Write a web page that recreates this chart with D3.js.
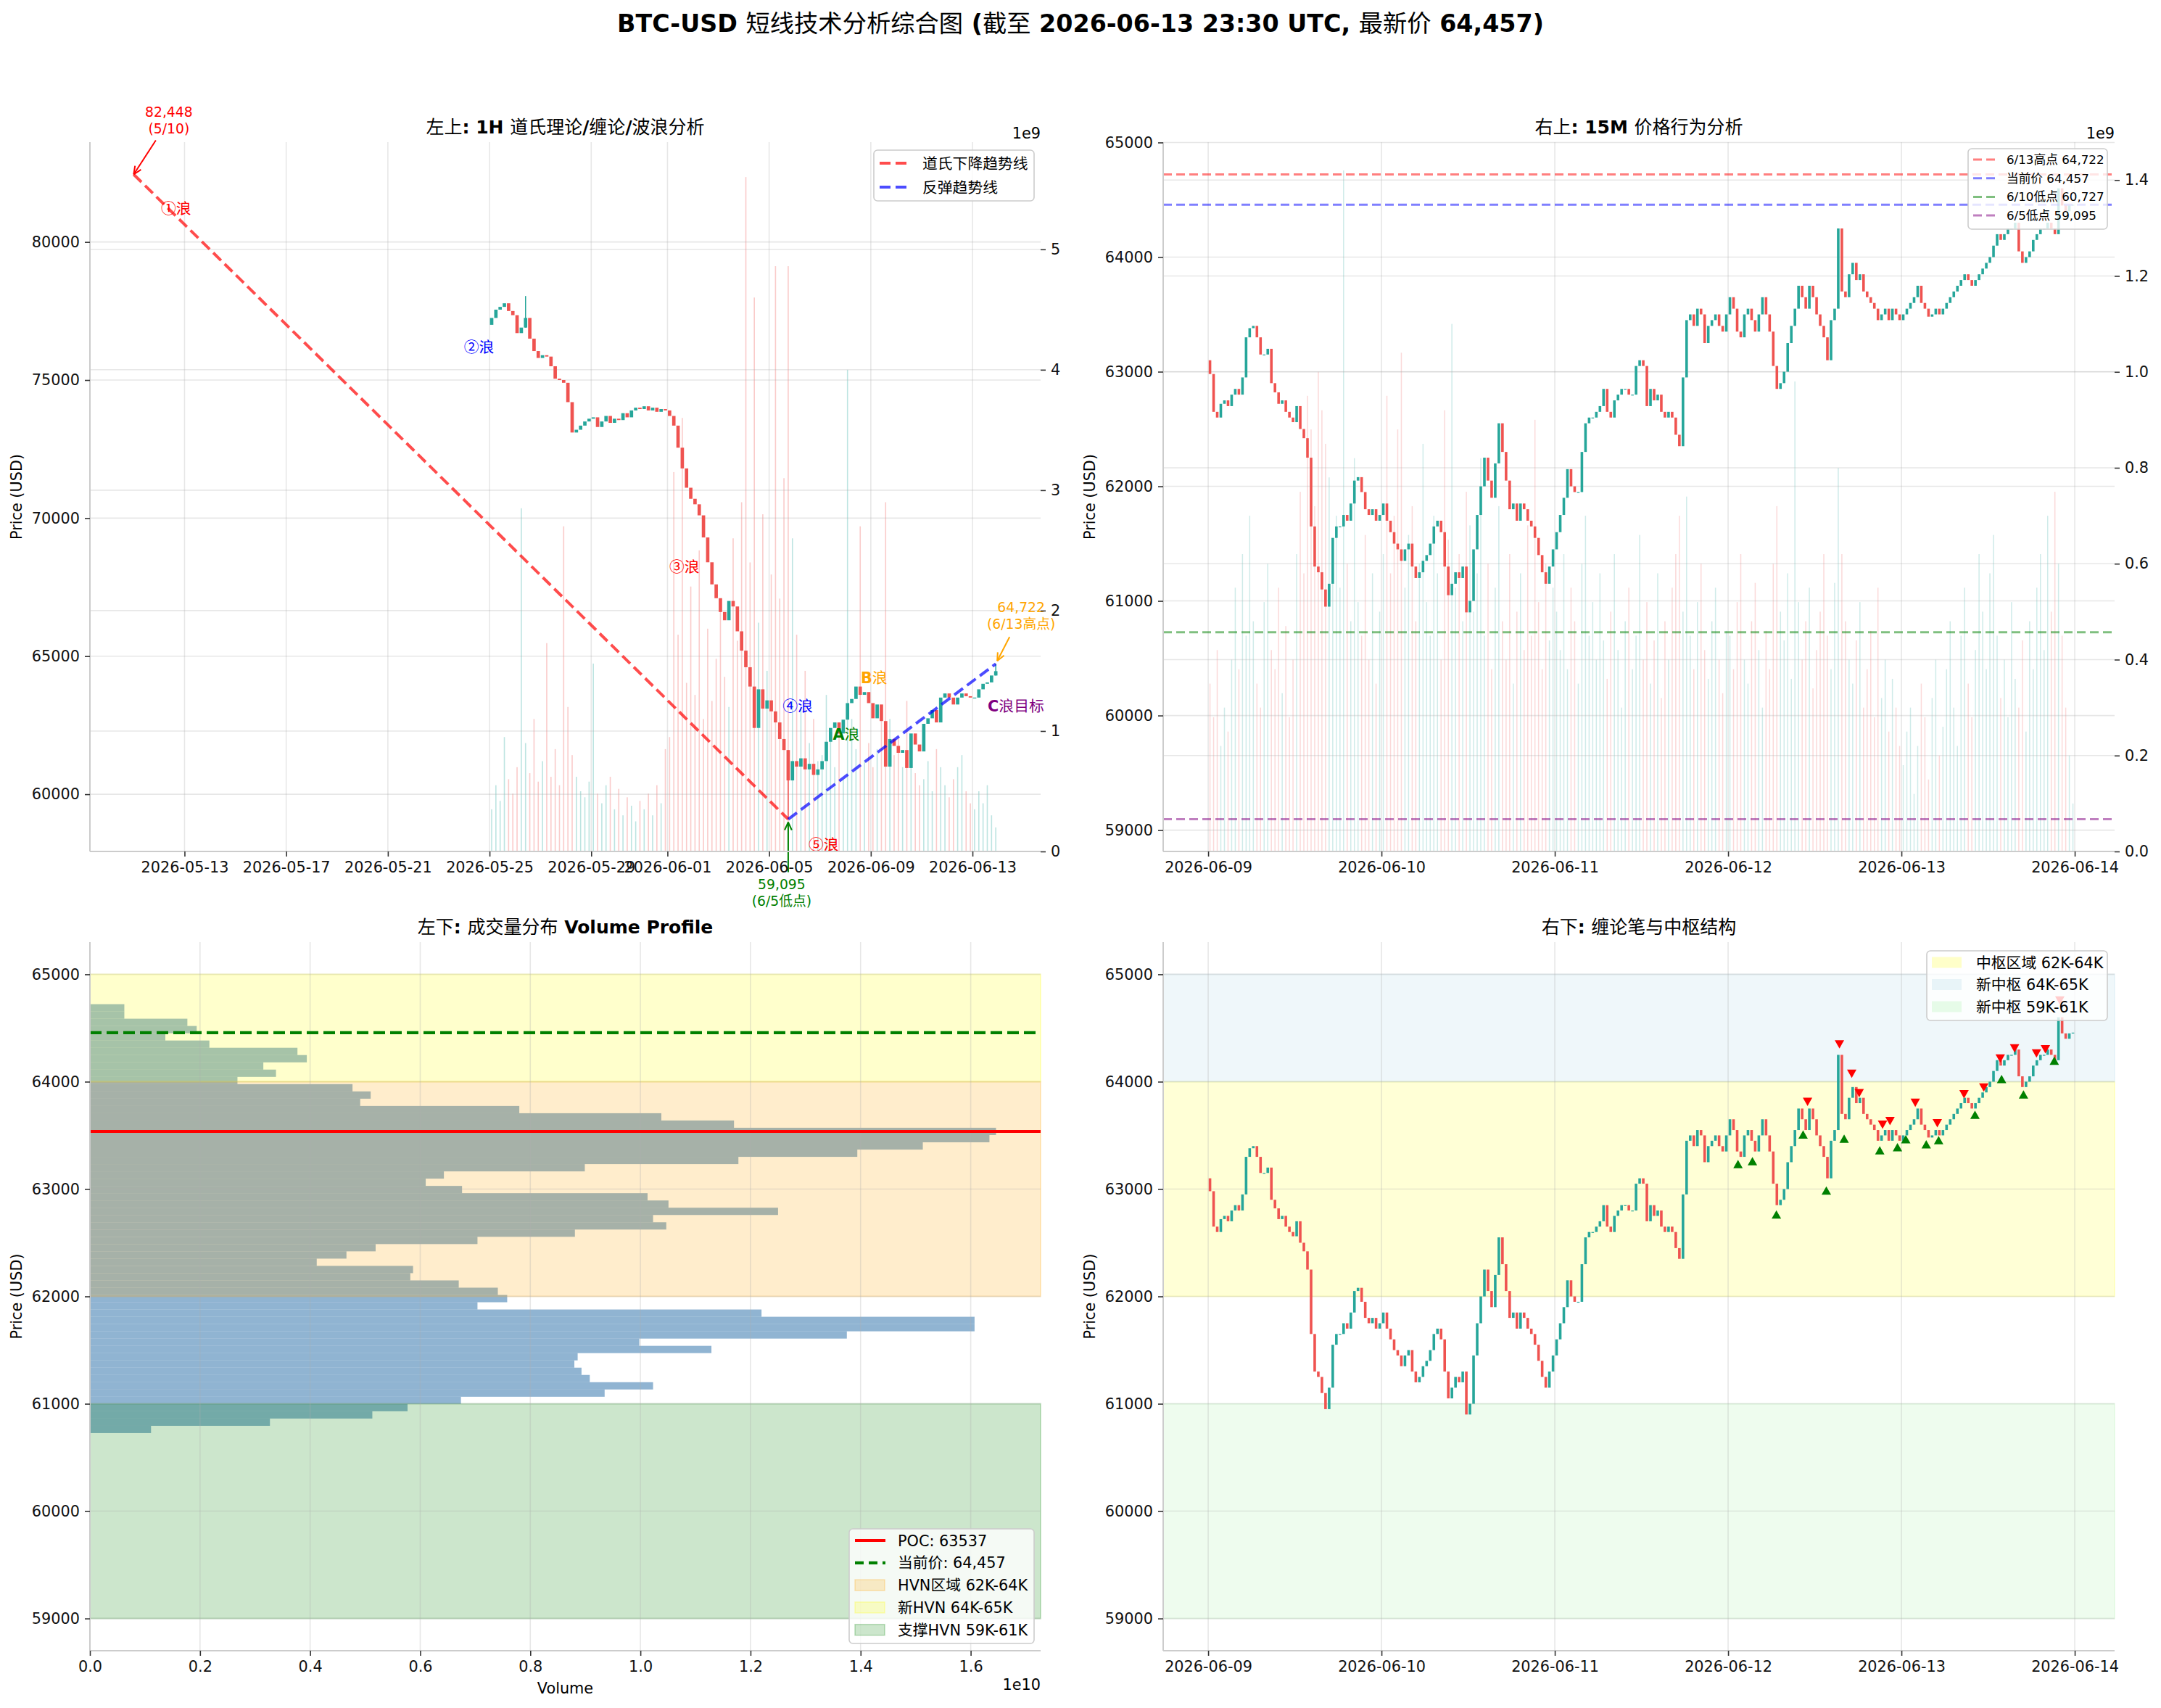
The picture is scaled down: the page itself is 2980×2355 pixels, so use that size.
<!DOCTYPE html>
<html><head><meta charset="utf-8">
<script src="https://cdn.jsdelivr.net/npm/d3@7/dist/d3.min.js"></script>
<style>
html,body{margin:0;padding:0;background:#fff;}
svg{display:block;}
text{white-space:pre;}
</style></head>
<body><svg id="chart" width="2980" height="2355" xmlns="http://www.w3.org/2000/svg"></svg>
<script>
// ================= DATA =================
const mainTitle = "BTC-USD 短线技术分析综合图 (截至 2026-06-13 23:30 UTC, 最新价 64,457)";
const panelTitles = ["左上: 1H 道氏理论/缠论/波浪分析", "右上: 15M 价格行为分析", "左下: 成交量分布 Volume Profile", "右下: 缠论笔与中枢结构"];

// Top-left: candles (4H steps) starting 2026-05-25
const tlStart = "2026-05-25T00:00:00Z";
const tlStepHours = 4;
const tlFirstOpen = 77000;
const tlClose = [
  77250, 77550, 77650, 77780, 77500, 77350,
  76700, 76900, 77250, 76500, 76050, 75800,
  75900, 75850, 75500, 75050, 75000, 74900,
  74200, 73100, 73200, 73350, 73500, 73600,
  73650, 73300, 73500, 73700, 73450, 73600,
  73550, 73800, 73650, 73900, 74000, 73950,
  74050, 73900, 74000, 73850, 73950, 73900,
  73700, 73350, 72550, 71800, 71100, 70700,
  70500, 70100, 69300, 68400, 67600, 67100,
  66600, 66300, 67000, 66800, 65900, 65200,
  64600, 63900, 62400, 63800, 63100, 63400,
  63000, 62600, 62000, 61600, 60500, 61200,
  61000, 61300, 60900, 61100, 60700, 60900,
  61200, 61900, 62400, 62600, 62200, 62700,
  63300, 63450, 63900, 63600, 63700, 63300,
  62750, 63250, 62650, 61000, 62000, 61750,
  61500, 61600, 60950, 62200, 61800, 61550,
  62550, 62750, 63050, 62600, 63500, 63650,
  63500, 63250, 63500, 63650, 63550, 63500,
  63500, 63800, 64000, 64050, 64300, 64457
];
// volume, units of 1e9
const tlVolume = [
  0.35, 0.55, 0.42, 0.95, 0.60, 0.48,
  0.70, 2.85, 0.90, 0.65, 1.10, 0.58,
  0.75, 1.73, 0.62, 0.85, 0.55, 2.70,
  1.20, 0.80, 0.62, 0.50, 0.45, 0.58,
  1.56, 0.48, 0.40, 0.55, 0.62, 0.35,
  0.52, 0.30, 0.45, 0.38, 0.25, 0.42,
  0.35, 0.48, 0.30, 0.55, 0.40, 0.85,
  0.95, 3.15, 1.80, 3.60, 1.40, 2.20,
  1.30, 2.50, 1.10, 1.85, 1.25, 1.60,
  2.10, 1.45, 1.20, 2.60, 1.75, 2.90,
  5.60, 2.40, 4.60, 1.90, 2.80, 1.50,
  2.30, 4.86, 2.10, 3.10, 4.86, 2.60,
  1.80, 1.20, 1.50, 0.90, 1.10, 0.75,
  0.80, 1.30, 0.95, 0.70, 1.05, 0.60,
  4.00, 1.10, 0.85, 2.70, 0.75, 0.90,
  0.70, 0.85, 1.20, 2.90, 1.10, 0.80,
  0.95, 0.70, 1.25, 0.90, 0.65, 0.55,
  0.60, 0.75, 0.50, 0.85, 0.70, 0.55,
  0.45, 0.60, 0.70, 0.80, 0.50, 0.40,
  0.35, 0.50, 0.40, 0.55, 0.30, 0.20
];
const tlExtremes = [
  {t: "2026-05-26T10:00:00Z", high: 78043},
  {t: "2026-06-05T18:00:00Z", low: 59095},
  {t: "2026-06-13T22:00:00Z", high: 64722}
];
const tlDateTicks = ["2026-05-13", "2026-05-17", "2026-05-21", "2026-05-25", "2026-05-29", "2026-06-01", "2026-06-05", "2026-06-09", "2026-06-13"];
const tlPriceTicks = [60000, 65000, 70000, 75000, 80000];
const tlVolTicks = [0, 1, 2, 3, 4, 5];

const dowLine = [["2026-05-11T00:00:00Z", 82448], ["2026-06-05T18:00:00Z", 59095]];
const reboundLine = [["2026-06-05T18:00:00Z", 59095], ["2026-06-13T22:00:00Z", 64722]];
const waveLabels = [
  {text: "①浪", t: "2026-05-12T16:00:00Z", p: 81200, color: "red"},
  {text: "②浪", t: "2026-05-24T14:00:00Z", p: 76200, color: "blue"},
  {text: "③浪", t: "2026-06-01T16:00:00Z", p: 68230, color: "red"},
  {text: "④浪", t: "2026-06-06T03:00:00Z", p: 63200, color: "blue"},
  {text: "⑤浪", t: "2026-06-07T03:30:00Z", p: 58175, color: "red"},
  {text: "A浪", t: "2026-06-08T00:45:00Z", p: 62175, color: "green"},
  {text: "B浪", t: "2026-06-09T03:00:00Z", p: 64225, color: "orange"},
  {text: "C浪目标", t: "2026-06-14T17:00:00Z", p: 63200, color: "purple"}
];
const keyPoints = [
  {t: "2026-05-11T00:00:00Z", p: 82448, lines: ["82,448", "(5/10)"], color: "red"},
  {t: "2026-06-05T18:00:00Z", p: 59095, lines: ["59,095", "(6/5低点)"], color: "green"},
  {t: "2026-06-13T22:00:00Z", p: 64722, lines: ["64,722", "(6/13高点)"], color: "orange"}
];

// 15M panels: candles in 30-minute steps starting 2026-06-09
const mStart = "2026-06-09T00:00:00Z";
const mStepMinutes = 30;
const mFirstOpen = 63100;
const mClose = [
  62980, 62650, 62600, 62720, 62750, 62700, 62800, 62850, 62800, 62950, 63300, 63380,
  63400, 63300, 63150, 63150, 63200, 62900, 62820, 62720, 62750, 62650, 62600, 62560,
  62700, 62500, 62420, 62250, 61650, 61300, 61250, 61100, 60950, 61150, 61550, 61650,
  61650, 61750, 61700, 61850, 62050, 62080, 61950, 61800, 61750, 61800, 61700, 61750,
  61850, 61700, 61600, 61500, 61450, 61350, 61450, 61500, 61300, 61200, 61250, 61350,
  61400, 61500, 61650, 61700, 61600, 61300, 61050, 61150, 61250, 61200, 61300, 60900,
  61000, 61450, 61750, 62000, 62250, 62050, 61900, 62200, 62550, 62300, 62050, 61800,
  61850, 61700, 61850, 61800, 61700, 61650, 61550, 61400, 61250, 61150, 61300, 61450,
  61600, 61750, 61900, 62150, 62000, 61950, 61950, 62300, 62550, 62600, 62600, 62650,
  62700, 62850, 62650, 62600, 62750, 62800, 62850, 62850, 62800, 62800, 63050, 63100,
  63050, 62700, 62850, 62750, 62800, 62650, 62600, 62650, 62600, 62450, 62350, 62950,
  63450, 63500, 63400, 63550, 63500, 63250, 63400, 63450, 63500, 63400, 63350, 63500,
  63650, 63550, 63350, 63300, 63500, 63550, 63450, 63350, 63500, 63650, 63500, 63350,
  63050, 62850, 62900, 63000, 63250, 63400, 63550, 63750, 63650, 63550, 63750, 63650,
  63500, 63400, 63300, 63100, 63450, 63550, 64250, 63700, 63650, 63850, 63950, 63800,
  63850, 63700, 63650, 63600, 63550, 63450, 63500, 63550, 63450, 63550, 63500, 63450,
  63500, 63550, 63600, 63650, 63750, 63600, 63550, 63480, 63500, 63550, 63500, 63550,
  63600, 63650, 63700, 63750, 63800, 63850, 63800, 63750, 63800, 63850, 63900, 63950,
  64000, 64100, 64200, 64150, 64200, 64250, 64250, 64300, 64050, 63950, 64000, 64050,
  64150, 64200, 64250, 64250, 64300, 64250, 64200, 64600, 64450, 64400, 64450, 64457
];
// volume, units of 1e9
const mVolume = [
  0.35, 0.28, 0.42, 0.22, 0.30, 0.25, 0.40, 0.55, 0.38, 0.62, 0.45, 0.70,
  0.48, 0.35, 0.30, 0.52, 0.60, 0.42, 0.38, 0.55, 0.33, 0.47, 0.28, 0.40,
  0.62, 0.75, 0.58, 0.95, 0.88, 0.72, 1.00, 0.92, 0.85, 0.78, 0.65, 0.70,
  0.55, 1.42, 0.60, 0.48, 0.82, 0.52, 0.45, 0.66, 0.40, 0.58, 0.35, 0.50,
  0.62, 0.95, 0.58, 0.70, 0.88, 1.04, 0.55, 0.66, 0.72, 0.48, 0.60, 0.85,
  0.52, 0.45, 0.70, 0.58, 0.40, 0.92, 0.65, 1.10, 0.55, 0.62, 0.48, 0.75,
  0.68, 0.50, 0.58, 0.82, 0.45, 0.60, 0.38, 0.55, 0.72, 0.48, 0.40, 0.62,
  0.35, 0.50, 0.58, 0.42, 0.68, 0.45, 0.90, 0.52, 0.38, 0.60, 0.44, 0.55,
  0.50, 0.42, 0.62, 0.38, 0.55, 0.48, 0.35, 0.60, 0.70, 0.45, 0.52, 0.40,
  0.58, 0.44, 0.36, 0.50, 0.62, 0.42, 0.30, 0.48, 0.55, 0.38, 0.45, 0.66,
  0.40, 0.52, 0.35, 0.44, 0.58, 0.32, 0.48, 0.40, 0.55, 0.62, 0.70, 0.50,
  0.74, 0.45, 0.38, 0.52, 0.60, 0.42, 0.36, 0.48, 0.55, 0.40, 0.33, 0.46,
  0.45, 0.38, 0.52, 0.62, 0.40, 0.35, 0.48, 0.56, 0.42, 0.30, 0.46, 0.38,
  0.60, 0.72, 0.50, 0.44, 0.58, 0.36, 0.98, 0.52, 0.40, 0.48, 0.55, 0.34,
  0.42, 0.50, 0.62, 0.45, 0.38, 0.56, 0.80, 0.62, 0.48, 0.40, 0.35, 0.44,
  0.52, 0.30, 0.38, 0.46, 0.28, 0.55, 0.32, 0.40, 0.25, 0.36, 0.30, 0.22,
  0.18, 0.25, 0.30, 0.12, 0.22, 0.35, 0.28, 0.15, 0.32, 0.40, 0.20, 0.26,
  0.38, 0.48, 0.30, 0.22, 0.45, 0.55, 0.35, 0.28, 0.42, 0.62, 0.50, 0.38,
  0.58, 0.66, 0.45, 0.32, 0.40, 0.28, 0.52, 0.36, 0.30, 0.44, 0.25, 0.48,
  0.38, 0.55, 0.62, 0.42, 0.70, 0.50, 0.75, 0.60, 0.45, 0.30, 0.20, 0.10
];
const dayTicks = ["2026-06-09", "2026-06-10", "2026-06-11", "2026-06-12", "2026-06-13", "2026-06-14"];
const trPriceTicks = [59000, 60000, 61000, 62000, 63000, 64000, 65000];
const trVolTicks = [0, 0.2, 0.4, 0.6, 0.8, 1.0, 1.2, 1.4];
const trLevels = [
  {label: "6/13高点 64,722", p: 64722, color: "red"},
  {label: "当前价 64,457", p: 64457, color: "blue"},
  {label: "6/10低点 60,727", p: 60727, color: "green"},
  {label: "6/5低点 59,095", p: 59095, color: "purple"}
];

// Bottom-left: volume profile, bins from high to low (units of 1e10)
const profileHigh = 64722, profileLow = 60727;
const profileVolumeHighToLow = [
  0.0625, 0.0625, 0.177, 0.194, 0.137, 0.217, 0.377, 0.394, 0.315, 0.338,
  0.268, 0.477, 0.510, 0.491, 0.780, 1.038, 1.170, 1.646, 1.634, 1.513,
  1.394, 1.178, 0.899, 0.643, 0.610, 0.676, 1.013, 1.051, 1.250, 1.023,
  1.047, 0.881, 0.704, 0.519, 0.466, 0.412, 0.587, 0.582, 0.670, 0.741,
  0.758, 0.704, 1.220, 1.607, 1.607, 1.375, 0.998, 1.129, 0.886, 0.880,
  0.893, 0.908, 1.023, 0.935, 0.674, 0.577, 0.513, 0.327, 0.111
];
const pocPrice = 63537, currentPrice = 64457;
const blVolTicks = [0, 0.2, 0.4, 0.6, 0.8, 1.0, 1.2, 1.4, 1.6];
const blZones = [
  {label: "HVN区域 62K-64K", lo: 62000, hi: 64000, color: "orange"},
  {label: "新HVN 64K-65K", lo: 64000, hi: 65000, color: "yellow"},
  {label: "支撑HVN 59K-61K", lo: 59000, hi: 61000, color: "green"}
];
const brZones = [
  {label: "中枢区域 62K-64K", lo: 62000, hi: 64000, color: "yellow", op: 0.16},
  {label: "新中枢 64K-65K", lo: 64000, hi: 65000, color: "lightblue", op: 0.2},
  {label: "新中枢 59K-61K", lo: 59000, hi: 61000, color: "lightgreen", op: 0.15}
];
const fractalTops = [
  ["2026-06-12T11:00:00Z", 63814], ["2026-06-12T15:25:00Z", 64350], ["2026-06-12T17:07:00Z", 64075],
  ["2026-06-12T18:09:00Z", 63895], ["2026-06-12T21:23:00Z", 63601], ["2026-06-12T22:25:00Z", 63634],
  ["2026-06-13T01:55:00Z", 63805], ["2026-06-13T04:58:00Z", 63615], ["2026-06-13T08:40:00Z", 63885],
  ["2026-06-13T11:24:00Z", 63947], ["2026-06-13T13:41:00Z", 64217], ["2026-06-13T15:40:00Z", 64312],
  ["2026-06-13T18:42:00Z", 64265], ["2026-06-13T19:56:00Z", 64303], ["2026-06-13T21:56:00Z", 64758]
];
const fractalBottoms = [
  ["2026-06-12T01:22:00Z", 63231], ["2026-06-12T03:22:00Z", 63259], ["2026-06-12T06:41:00Z", 62761],
  ["2026-06-12T10:23:00Z", 63506], ["2026-06-12T13:36:00Z", 62985], ["2026-06-12T16:04:00Z", 63468],
  ["2026-06-12T21:00:00Z", 63359], ["2026-06-12T23:27:00Z", 63388], ["2026-06-13T00:36:00Z", 63463],
  ["2026-06-13T03:26:00Z", 63416], ["2026-06-13T05:09:00Z", 63454], ["2026-06-13T10:11:00Z", 63691],
  ["2026-06-13T13:52:00Z", 64023], ["2026-06-13T16:54:00Z", 63880], ["2026-06-13T21:10:00Z", 64193]
];

// ================= RENDERING =================
const svg = d3.select("#chart");
svg.append("rect").attr("width", 2980).attr("height", 2355).attr("fill", "#fff");
const LAT = "'DejaVu Sans', sans-serif", CJKF = "'Noto Sans CJK SC', sans-serif";
const UP = "#26a69a", DOWN = "#ef5350";
const FS = 20.8;
const isCJK = ch => /[\u2460-\u24ff\u3000-\u9fff\uff00-\uffef]/.test(ch);
const D = s => new Date(s.length <= 10 ? s + "T00:00:00Z" : s);

function richText(parent, str, x, y, o = {}) {
  const t = parent.append("text").attr("x", x).attr("y", y)
    .attr("font-size", o.size || FS).attr("fill", o.color || "#000")
    .attr("text-anchor", o.anchor || "start");
  if (o.rotate) t.attr("transform", `rotate(${o.rotate},${x},${y})`);
  const runs = [];
  for (const ch of str) {
    const c = isCJK(ch);
    if (runs.length && runs[runs.length - 1].c === c) runs[runs.length - 1].s += ch;
    else runs.push({c, s: ch});
  }
  runs.forEach(r => t.append("tspan").attr("font-family", r.c ? CJKF : LAT)
    .attr("font-weight", (o.bold && !r.c) ? "bold" : "normal").text(r.s));
  return t;
}
function styleAxis(sel) {
  sel.select(".domain").remove();
  sel.selectAll(".tick line").attr("stroke", "#333").attr("stroke-width", 1.6);
  sel.selectAll(".tick text").attr("font-family", LAT).attr("font-size", FS).attr("fill", "#111");
}
function spines(g, x0, x1, y0, y1) {
  g.append("line").attr("x1", x0).attr("x2", x0).attr("y1", y0).attr("y2", y1).attr("stroke", "#cccccc").attr("stroke-width", 2);
  g.append("line").attr("x1", x0).attr("x2", x1).attr("y1", y1).attr("y2", y1).attr("stroke", "#cccccc").attr("stroke-width", 2);
}
function hGrid(g, scale, ticks, x0, x1) {
  g.selectAll(null).data(ticks).join("line").attr("x1", x0).attr("x2", x1)
    .attr("y1", d => scale(d)).attr("y2", d => scale(d))
    .attr("stroke", "#b0b0b0").attr("stroke-opacity", 0.3).attr("stroke-width", 1.6);
}
function vGrid(g, xs, y0, y1) {
  g.selectAll(null).data(xs).join("line").attr("x1", d => d).attr("x2", d => d).attr("y1", y0).attr("y2", y1)
    .attr("stroke", "#b0b0b0").attr("stroke-opacity", 0.3).attr("stroke-width", 1.6);
}
function buildCandles(startISO, stepMs, firstOpen, closes, vols) {
  const s = Date.parse(startISO);
  return closes.map((c, i) => ({
    t0: new Date(s + i * stepMs), tm: new Date(s + i * stepMs + stepMs / 2),
    o: i ? closes[i - 1] : firstOpen, c, v: vols[i]
  }));
}
function drawCandles(g, data, xS, yS, bodyW) {
  g.selectAll(null).data(data).join("rect")
    .attr("x", d => xS(d.tm) - bodyW / 2).attr("width", bodyW)
    .attr("y", d => yS(Math.max(d.o, d.c)))
    .attr("height", d => Math.max(1.2, Math.abs(yS(d.o) - yS(d.c))))
    .attr("fill", d => d.c >= d.o ? UP : DOWN);
}
function drawVolume(g, data, xS, vS, w, op) {
  g.selectAll(null).data(data).join("rect")
    .attr("x", d => xS(d.tm) - w / 2).attr("width", w)
    .attr("y", d => vS(d.v)).attr("height", d => vS(0) - vS(d.v))
    .attr("fill", d => d.c >= d.o ? UP : DOWN).attr("fill-opacity", op);
}
function arrow(g, x1, y1, x2, y2, color) {
  g.append("line").attr("x1", x1).attr("y1", y1).attr("x2", x2).attr("y2", y2).attr("stroke", color).attr("stroke-width", 2);
  const a = Math.atan2(y2 - y1, x2 - x1), L = 12, sp = 0.42;
  [a + Math.PI - sp, a + Math.PI + sp].forEach(b => {
    g.append("line").attr("x1", x2).attr("y1", y2).attr("x2", x2 + L * Math.cos(b)).attr("y2", y2 + L * Math.sin(b))
      .attr("stroke", color).attr("stroke-width", 2);
  });
}
function legendBox(g, x0, y0, w, h) {
  g.append("rect").attr("x", x0).attr("y", y0).attr("width", w).attr("height", h).attr("rx", 5)
    .attr("fill", "#fff").attr("fill-opacity", 0.8).attr("stroke", "#cccccc").attr("stroke-width", 1.6);
}

// ---- main title
richText(svg, mainTitle, 1490, 44, {size: 33.3, anchor: "middle", bold: true});

// ================= TOP-LEFT =================
{
  const g = svg.append("g");
  const X0 = 124, X1 = 1435, Y0 = 196, Y1 = 1174;
  const x = d3.scaleUtc().domain([Date.UTC(2026, 4, 9, 6, 40), Date.UTC(2026, 5, 15, 16, 20)]).range([X0, X1]);
  const y = d3.scaleLinear().domain([57927, 83616]).range([Y1, Y0]);
  const v = d3.scaleLinear().domain([0, 5.89]).range([Y1, Y0]);
  const data = buildCandles(tlStart, tlStepHours * 3600e3, tlFirstOpen, tlClose, tlVolume);
  const pxStep = x(new Date(Date.parse(tlStart) + tlStepHours * 3600e3)) - x(D(tlStart));

  drawVolume(g, data, x, v, 1.6, 0.3);
  hGrid(g, y, tlPriceTicks, X0, X1);
  hGrid(g, v, tlVolTicks, X0, X1);
  vGrid(g, tlDateTicks.map(d => x(D(d))), Y0, Y1);

  tlExtremes.forEach(e => {
    const c = data.find(d => d.t0 <= D(e.t) && D(e.t) < new Date(+d.t0 + tlStepHours * 3600e3));
    if (!c) return;
    const top = e.high !== undefined ? e.high : Math.max(c.o, c.c);
    const bot = e.low !== undefined ? e.low : Math.min(c.o, c.c);
    g.append("line").attr("x1", x(c.tm)).attr("x2", x(c.tm)).attr("y1", y(top)).attr("y2", y(bot))
      .attr("stroke", c.c >= c.o ? UP : DOWN).attr("stroke-width", 1.5);
  });
  drawCandles(g, data, x, y, pxStep * 0.8);

  const line = d3.line().x(d => x(D(d[0]))).y(d => y(d[1]));
  g.append("path").attr("d", line(dowLine)).attr("fill", "none").attr("stroke", "red").attr("stroke-opacity", 0.7)
    .attr("stroke-width", 4).attr("stroke-dasharray", "15,7");
  g.append("path").attr("d", line(reboundLine)).attr("fill", "none").attr("stroke", "blue").attr("stroke-opacity", 0.7)
    .attr("stroke-width", 4).attr("stroke-dasharray", "15,7");

  waveLabels.forEach(w => richText(g, w.text, x(D(w.t)), y(w.p) + 7.5, {size: FS, anchor: "middle", color: w.color, bold: true}));

  const offs = [
    {tx: 48.5, ty: -79, ax: 30.5, ay: -47, hx: 0, hy: 0},
    {tx: -9, ty: 96, ax: 0, ay: 73, hx: 0, hy: 4},
    {tx: 35, ty: -71, ax: 19, ay: -37, hx: 2, hy: -4}
  ];
  keyPoints.forEach((k, i) => {
    const px = x(D(k.t)), py = y(k.p), o = offs[i];
    k.lines.forEach((ln, j) => richText(g, ln, px + o.tx, py + o.ty + j * 23, {size: 18.75, anchor: "middle", color: k.color}));
    arrow(g, px + o.ax, py + o.ay, px + o.hx, py + o.hy, k.color);
  });

  spines(g, X0, X1, Y0, Y1);
  const ax = g.append("g").attr("transform", `translate(0,${Y1})`)
    .call(d3.axisBottom(x).tickValues(tlDateTicks.map(D)).tickFormat(d3.utcFormat("%Y-%m-%d")).tickSize(7).tickPadding(7));
  styleAxis(ax);
  const ay = g.append("g").attr("transform", `translate(${X0},0)`)
    .call(d3.axisLeft(y).tickValues(tlPriceTicks).tickFormat(d3.format("d")).tickSize(7).tickPadding(7));
  styleAxis(ay);
  const av = g.append("g").attr("transform", `translate(${X1},0)`)
    .call(d3.axisRight(v).tickValues(tlVolTicks).tickFormat(d3.format("d")).tickSize(7).tickPadding(7));
  styleAxis(av);
  richText(g, "1e9", X1, 191, {size: FS, anchor: "end"});
  richText(g, "Price (USD)", 30, (Y0 + Y1) / 2, {size: FS, anchor: "middle", rotate: -90});
  richText(g, panelTitles[0], (X0 + X1) / 2, 184, {size: 25, anchor: "middle", bold: true});

  legendBox(g, 1205, 207, 221, 70);
  [["道氏下降趋势线", "red", 225], ["反弹趋势线", "blue", 258]].forEach(([lab, col, yy]) => {
    g.append("line").attr("x1", 1213).attr("x2", 1255).attr("y1", yy).attr("y2", yy).attr("stroke", col)
      .attr("stroke-opacity", 0.7).attr("stroke-width", 4).attr("stroke-dasharray", "15,7");
    richText(g, lab, 1272, yy + 7.5, {size: FS});
  });
}

// shared minute data
const mData = buildCandles(mStart, mStepMinutes * 60e3, mFirstOpen, mClose, mVolume);
const RX0 = 1604, RX1 = 2916;
const rx = d3.scaleUtc().domain([Date.UTC(2026, 5, 8, 17, 46), Date.UTC(2026, 5, 14, 5, 31)]).range([RX0, RX1]);
const mStepPx = rx(new Date(Date.parse(mStart) + mStepMinutes * 60e3)) - rx(D(mStart));

// ================= TOP-RIGHT =================
{
  const g = svg.append("g");
  const Y0 = 196, Y1 = 1174;
  const y = d3.scaleLinear().domain([58814, 65003]).range([Y1, Y0]);
  const v = d3.scaleLinear().domain([0, 1.479]).range([Y1, Y0]);
  drawVolume(g, mData, rx, v, 1.5, 0.22);
  hGrid(g, y, trPriceTicks, RX0, RX1);
  hGrid(g, v, trVolTicks, RX0, RX1);
  vGrid(g, dayTicks.map(d => rx(D(d))), Y0, Y1);
  drawCandles(g, mData, rx, y, mStepPx * 0.72);
  trLevels.forEach(l => {
    g.append("line").attr("x1", RX0).attr("x2", RX1).attr("y1", y(l.p)).attr("y2", y(l.p))
      .attr("stroke", l.color).attr("stroke-opacity", 0.5).attr("stroke-width", 3).attr("stroke-dasharray", "12,6");
  });
  spines(g, RX0, RX1, Y0, Y1);
  const ax = g.append("g").attr("transform", `translate(0,${Y1})`)
    .call(d3.axisBottom(rx).tickValues(dayTicks.map(D)).tickFormat(d3.utcFormat("%Y-%m-%d")).tickSize(7).tickPadding(7));
  styleAxis(ax);
  const ay = g.append("g").attr("transform", `translate(${RX0},0)`)
    .call(d3.axisLeft(y).tickValues(trPriceTicks).tickFormat(d3.format("d")).tickSize(7).tickPadding(7));
  styleAxis(ay);
  const av = g.append("g").attr("transform", `translate(${RX1},0)`)
    .call(d3.axisRight(v).tickValues(trVolTicks).tickFormat(d3.format(".1f")).tickSize(7).tickPadding(7));
  styleAxis(av);
  richText(g, "1e9", RX1, 191, {size: FS, anchor: "end"});
  richText(g, "Price (USD)", 1510, (Y0 + Y1) / 2, {size: FS, anchor: "middle", rotate: -90});
  richText(g, panelTitles[1], (RX0 + RX1) / 2, 184, {size: 25, anchor: "middle", bold: true});

  legendBox(g, 2714, 205, 192, 111);
  trLevels.forEach((l, i) => {
    const yy = 220 + i * 25.7;
    g.append("line").attr("x1", 2721).attr("x2", 2754).attr("y1", yy).attr("y2", yy).attr("stroke", l.color)
      .attr("stroke-opacity", 0.5).attr("stroke-width", 3).attr("stroke-dasharray", "12,6");
    richText(g, l.label, 2767, yy + 6, {size: 16.7});
  });
}

// ================= BOTTOM-LEFT =================
{
  const g = svg.append("g");
  const X0 = 124, X1 = 1435, Y0 = 1299, Y1 = 2276;
  const x = d3.scaleLinear().domain([0, 1.727]).range([X0, X1]);
  const y = d3.scaleLinear().domain([58700, 65300]).range([Y1, Y0]);
  const n = profileVolumeHighToLow.length, w = (profileHigh - profileLow) / n;
  g.selectAll(null).data(profileVolumeHighToLow).join("rect")
    .attr("x", X0).attr("width", d => x(d) - X0)
    .attr("y", (d, i) => y(profileHigh - i * w))
    .attr("height", (d, i) => y(profileHigh - (i + 1) * w) - y(profileHigh - i * w))
    .attr("fill", "steelblue").attr("fill-opacity", 0.6);
  blZones.forEach(z => {
    g.append("rect").attr("x", X0).attr("width", X1 - X0).attr("y", y(z.hi)).attr("height", y(z.lo) - y(z.hi))
      .attr("fill", z.color).attr("fill-opacity", 0.2).attr("stroke", z.color).attr("stroke-opacity", 0.2).attr("stroke-width", 2);
  });
  hGrid(g, y, trPriceTicks, X0, X1);
  vGrid(g, blVolTicks.map(d => x(d)), Y0, Y1);
  g.append("line").attr("x1", X0).attr("x2", X1).attr("y1", y(pocPrice)).attr("y2", y(pocPrice))
    .attr("stroke", "red").attr("stroke-width", 4.2);
  g.append("line").attr("x1", X0).attr("x2", X1).attr("y1", y(currentPrice)).attr("y2", y(currentPrice))
    .attr("stroke", "green").attr("stroke-width", 4.2).attr("stroke-dasharray", "16,7");
  spines(g, X0, X1, Y0, Y1);
  const ax = g.append("g").attr("transform", `translate(0,${Y1})`)
    .call(d3.axisBottom(x).tickValues(blVolTicks).tickFormat(d3.format(".1f")).tickSize(7).tickPadding(7));
  styleAxis(ax);
  const ay = g.append("g").attr("transform", `translate(${X0},0)`)
    .call(d3.axisLeft(y).tickValues(trPriceTicks).tickFormat(d3.format("d")).tickSize(7).tickPadding(7));
  styleAxis(ay);
  richText(g, "1e10", X1, 2330, {size: FS, anchor: "end"});
  richText(g, "Volume", (X0 + X1) / 2, 2335, {size: FS, anchor: "middle"});
  richText(g, "Price (USD)", 30, (Y0 + Y1) / 2, {size: FS, anchor: "middle", rotate: -90});
  richText(g, panelTitles[2], (X0 + X1) / 2, 1287, {size: 25, anchor: "middle", bold: true});

  legendBox(g, 1171, 2108, 255, 158);
  const items = [
    {type: "line", color: "red", label: "POC: " + pocPrice},
    {type: "dash", color: "green", label: "当前价: " + d3.format(",")(currentPrice)},
    ...blZones.map(z => ({type: "patch", color: z.color, label: z.label}))
  ];
  items.forEach((it, i) => {
    const yy = 2124 + i * 30.8;
    if (it.type === "patch") {
      g.append("rect").attr("x", 1179).attr("y", yy - 7.5).attr("width", 41).attr("height", 15)
        .attr("fill", it.color).attr("fill-opacity", 0.2).attr("stroke", it.color).attr("stroke-opacity", 0.25).attr("stroke-width", 1.5);
    } else {
      g.append("line").attr("x1", 1179).attr("x2", 1221).attr("y1", yy).attr("y2", yy).attr("stroke", it.color)
        .attr("stroke-width", 4.2).attr("stroke-dasharray", it.type === "dash" ? "12,7" : null);
    }
    richText(g, it.label, 1238, yy + 7.5, {size: FS});
  });
}

// ================= BOTTOM-RIGHT =================
{
  const g = svg.append("g");
  const Y0 = 1299, Y1 = 2276;
  const y = d3.scaleLinear().domain([58700, 65300]).range([Y1, Y0]);
  brZones.forEach(z => {
    g.append("rect").attr("x", RX0).attr("width", RX1 - RX0).attr("y", y(z.hi)).attr("height", y(z.lo) - y(z.hi))
      .attr("fill", z.color).attr("fill-opacity", z.op).attr("stroke", z.color).attr("stroke-opacity", z.op).attr("stroke-width", 2);
  });
  hGrid(g, y, trPriceTicks, RX0, RX1);
  vGrid(g, dayTicks.map(d => rx(D(d))), Y0, Y1);
  drawCandles(g, mData, rx, y, mStepPx * 0.72);
  const tri = (cx, cy, down) => down
    ? `M${cx - 6.5},${cy - 5.5}L${cx + 6.5},${cy - 5.5}L${cx},${cy + 6}Z`
    : `M${cx - 6.5},${cy + 5.5}L${cx + 6.5},${cy + 5.5}L${cx},${cy - 6}Z`;
  g.selectAll(null).data(fractalTops).join("path").attr("d", d => tri(rx(D(d[0])), y(d[1]), true)).attr("fill", "red");
  g.selectAll(null).data(fractalBottoms).join("path").attr("d", d => tri(rx(D(d[0])), y(d[1]), false)).attr("fill", "green");
  spines(g, RX0, RX1, Y0, Y1);
  const ax = g.append("g").attr("transform", `translate(0,${Y1})`)
    .call(d3.axisBottom(rx).tickValues(dayTicks.map(D)).tickFormat(d3.utcFormat("%Y-%m-%d")).tickSize(7).tickPadding(7));
  styleAxis(ax);
  const ay = g.append("g").attr("transform", `translate(${RX0},0)`)
    .call(d3.axisLeft(y).tickValues(trPriceTicks).tickFormat(d3.format("d")).tickSize(7).tickPadding(7));
  styleAxis(ay);
  richText(g, "Price (USD)", 1510, (Y0 + Y1) / 2, {size: FS, anchor: "middle", rotate: -90});
  richText(g, panelTitles[3], (RX0 + RX1) / 2, 1287, {size: 25, anchor: "middle", bold: true});

  legendBox(g, 2657, 1311, 249, 96);
  brZones.forEach((z, i) => {
    const yy = 1327 + i * 30.5;
    g.append("rect").attr("x", 2664).attr("y", yy - 7.5).attr("width", 41).attr("height", 15)
      .attr("fill", z.color).attr("fill-opacity", z.op + 0.05);
    richText(g, z.label, 2725, yy + 7.5, {size: FS});
  });
}
</script>
</body></html>
